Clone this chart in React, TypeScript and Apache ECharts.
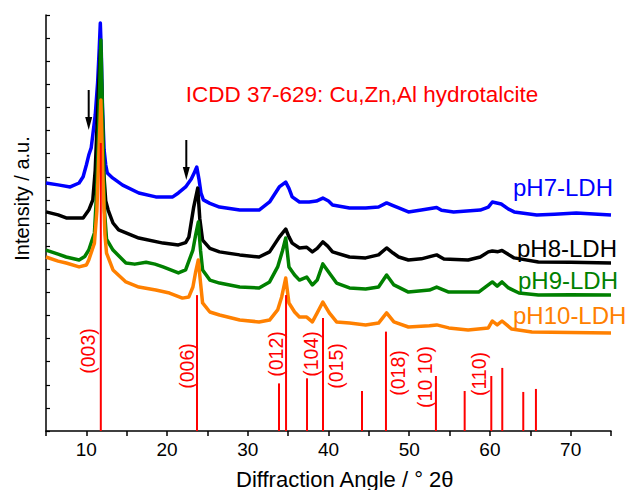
import React, { useEffect, useRef } from "react";
import * as echarts from "echarts";

// 2θ (degrees), intensity (a.u.)
const pH7: [number, number][] = [
  [5.0, 1073], [6.5, 1065], [8.0, 1056], [9.1, 1073], [9.6, 1100], [10.0, 1151], [10.3, 1194], [10.6, 1225],
  [11.1, 1367], [11.4, 1510], [11.6, 1657], [11.73, 1765], [11.85, 1640], [12.0, 1400], [12.2, 1216], [12.4, 1151],
  [12.6, 1116], [13.25, 1095], [14.5, 1064], [16.5, 1030], [18.6, 1013], [20.7, 1013], [21.4, 1030], [22.3, 1056],
  [23.0, 1090], [23.4, 1120], [23.68, 1142], [23.95, 1090], [24.2, 1030], [24.5, 1000], [25.3, 985], [26.5, 969],
  [29.0, 956], [31.4, 956], [32.7, 991], [33.9, 1056], [34.7, 1077], [35.1, 1050], [35.5, 1013], [36.4, 991],
  [37.6, 991], [38.5, 995], [39.3, 1008], [40.0, 995], [40.5, 978], [42.6, 965], [44.6, 965], [46.2, 969],
  [47.2, 987], [48.0, 975], [48.7, 965], [49.9, 948], [51.5, 956], [53.4, 967], [54.0, 955], [55.5, 948],
  [58.8, 956], [59.8, 969], [60.3, 991], [61.4, 982], [62.3, 960], [63.0, 948], [65.8, 935], [68.0, 938],
  [70.7, 943], [75.0, 935],
];
const pH8: [number, number][] = [
  [5.0, 948], [6.5, 935], [7.5, 922], [9.6, 922], [10.3, 956], [10.8, 1000], [11.1, 1129], [11.3, 1300],
  [11.5, 1480], [11.75, 1649], [11.95, 1400], [12.15, 1120], [12.4, 995], [12.7, 956], [13.3, 900], [14.0, 870],
  [16.5, 835], [19.5, 813], [21.4, 805], [22.3, 815], [22.7, 839], [23.3, 969], [23.8, 1051], [24.05, 920],
  [24.4, 826], [25.3, 790], [26.5, 775], [29.0, 762], [31.4, 753], [32.7, 775], [33.9, 839], [34.7, 874],
  [35.1, 840], [35.5, 813], [36.4, 792], [37.3, 795], [38.0, 775], [38.6, 790], [39.3, 818], [39.9, 800],
  [40.5, 775], [42.6, 753], [44.6, 749], [46.2, 762], [47.2, 792], [48.0, 770], [48.7, 753], [49.9, 740],
  [51.5, 745], [53.4, 762], [54.3, 744], [57.3, 740], [58.8, 753], [59.8, 775], [60.3, 779], [61.0, 776],
  [61.5, 781], [62.0, 770], [63.0, 749], [66.0, 731], [70.0, 730], [75.0, 727],
];
const pH9: [number, number][] = [
  [5.0, 783], [6.5, 765], [7.5, 753], [9.1, 740], [9.8, 755], [10.3, 783], [11.0, 857], [11.3, 1050],
  [11.55, 1350], [11.8, 1692], [12.05, 1300], [12.25, 950], [12.5, 830], [13.3, 783], [14.9, 727], [16.0, 722],
  [17.4, 730], [18.5, 722], [19.5, 710], [21.4, 684], [22.3, 697], [23.2, 783], [23.55, 850], [23.87, 904],
  [24.15, 780], [24.4, 697], [25.3, 653], [26.5, 640], [29.0, 623], [31.4, 619], [32.7, 645], [33.7, 710],
  [34.3, 780], [34.7, 835], [35.1, 710], [35.8, 675], [36.4, 653], [37.3, 666], [38.0, 632], [38.6, 653],
  [39.3, 723], [40.1, 684], [41.0, 640], [42.6, 619], [44.6, 614], [46.2, 623], [47.2, 675], [48.1, 632],
  [49.9, 601], [52.5, 610], [53.4, 623], [54.9, 601], [58.6, 601], [59.8, 632], [60.3, 645], [60.9, 627],
  [61.5, 645], [62.3, 619], [63.6, 597], [66.0, 588], [70.0, 590], [75.0, 588],
];
const pH10: [number, number][] = [
  [5.0, 753], [6.5, 735], [7.5, 727], [9.1, 710], [10.0, 718], [10.3, 740], [11.0, 813], [11.3, 950],
  [11.55, 1200], [11.8, 1432], [12.05, 1100], [12.3, 850], [12.5, 770], [13.3, 697], [14.9, 645], [16.5, 623],
  [18.6, 610], [20.3, 597], [21.9, 575], [22.7, 580], [23.2, 623], [23.55, 690], [23.87, 740], [24.15, 640],
  [24.4, 554], [25.3, 515], [26.5, 502], [29.0, 480], [31.4, 472], [32.7, 480], [33.7, 524], [34.2, 580],
  [34.7, 662], [35.1, 554], [35.8, 515], [36.4, 493], [37.3, 493], [38.0, 472], [38.6, 511], [39.3, 558],
  [40.1, 511], [41.0, 472], [42.6, 467], [44.6, 459], [46.2, 467], [47.2, 511], [48.1, 472], [49.9, 450],
  [52.5, 455], [53.4, 459], [54.9, 446], [57.3, 437], [59.8, 446], [60.3, 476], [60.9, 459], [61.5, 476],
  [62.7, 441], [65.2, 428], [70.0, 426], [75.0, 424],
];

// ICDD 37-629 reference reflections: 2θ, relative stick height
const refPos = [11.79, 23.71, 33.87, 34.74, 37.34, 39.32, 44.15, 47.12, 53.31, 56.87, 60.17, 61.53, 64.13, 65.7];
const refHeight = [1246, 588, 206, 588, 228, 489, 173, 430, 238, 173, 238, 273, 169, 182];

const hklLabels = ["(003)", "(006)", "(012)", "(104)", "(015)", "(018)", "(10 10)", "(110)"];
const hklPx: [number, number][] = [
  [88, 351], [186.5, 366], [276, 354], [311, 354], [336, 366], [397.5, 373], [425, 377], [478.5, 374],
];

const seriesNames = ["pH7-LDH", "pH8-LDH", "pH9-LDH", "pH10-LDH"];
const seriesColors = ["#0000ff", "#000000", "#008000", "#ff8000"];
const seriesLabelPx: [number, number][] = [[513, 187.5], [517, 248], [518, 280.5], [513, 315.5]];

const xTicks = { min: 5, max: 75, interval: 5 };
const yTicks = { min: 0, max: 1800, interval: 100 };

const FONT = "Liberation Sans, Arial, Helvetica, sans-serif";

export default function App() {
  const ref = useRef<HTMLDivElement>(null);
  useEffect(() => {
    const chart = echarts.init(ref.current!, null, { renderer: "svg" });
    const curves = [pH7, pH8, pH9, pH10];
    const graphic: any[] = [];
    graphic.push({
      type: "text", x: 362, y: 94,
      style: { text: "ICDD 37-629: Cu,Zn,Al hydrotalcite", fill: "#ff0000", font: `22.5px ${FONT}`, align: "center", verticalAlign: "middle" },
    });
    seriesNames.forEach((n, i) => {
      graphic.push({
        type: "text", x: seriesLabelPx[i][0], y: seriesLabelPx[i][1],
        style: { text: n, fill: seriesColors[i], font: `24px ${FONT}`, align: "left", verticalAlign: "middle" },
      });
    });
    hklLabels.forEach((t, i) => {
      graphic.push({
        type: "text", x: hklPx[i][0], y: hklPx[i][1], rotation: Math.PI / 2,
        style: { text: t, fill: "#ff0000", font: `19.5px ${FONT}`, align: "center", verticalAlign: "middle" },
      });
    });
    graphic.push({
      type: "text", x: 236, y: 479,
      style: { text: "Diffraction Angle / \u00b0 2\u03b8", fill: "#000", font: `22px ${FONT}`, align: "left", verticalAlign: "middle" },
    });
    graphic.push({
      type: "text", x: 22, y: 198.5, rotation: Math.PI / 2,
      style: { text: "Intensity / a.u.", fill: "#000", font: `20px ${FONT}`, align: "center", verticalAlign: "middle" },
    });
    const arrows: [number, number, number][] = [[88.7, 90, 130], [186.3, 140, 180]];
    arrows.forEach(([x, y0, y1]) => {
      graphic.push({ type: "line", shape: { x1: x, y1: y0, x2: x, y2: y1 - 10 }, style: { stroke: "#000", lineWidth: 2 } });
      graphic.push({ type: "polygon", shape: { points: [[x - 3.5, y1 - 13], [x + 3.5, y1 - 13], [x, y1]] }, style: { fill: "#000" } });
    });

    const option: any = {
      animation: false,
      grid: { left: 46, right: 16, top: 15, bottom: 59 },
      xAxis: {
        type: "value", min: xTicks.min, max: xTicks.max, interval: xTicks.interval,
        axisLine: { show: true, lineStyle: { color: "#000", width: 1.5 } },
        axisTick: { show: true, length: 5, inside: false, lineStyle: { color: "#000", width: 1.5 } },
        axisLabel: {
          color: "#000", fontSize: 19, fontFamily: FONT, margin: 9,
          formatter: (v: number) => (v % 10 === 0 ? String(v) : ""),
        },
        splitLine: { show: false },
      },
      yAxis: {
        type: "value", min: yTicks.min, max: yTicks.max, interval: yTicks.interval,
        axisLine: { show: true, lineStyle: { color: "#000", width: 1.5 } },
        axisTick: { show: true, length: 4, inside: true, lineStyle: { color: "#000", width: 1.2 } },
        axisLabel: { show: false },
        splitLine: { show: false },
      },
      series: [
        ...curves.map((d, i) => ({
          type: "line", name: seriesNames[i], data: d, showSymbol: false, smooth: false,
          lineStyle: { color: seriesColors[i], width: 3.5, join: "round" }, z: 2 + i,
        })),
        {
          type: "custom", name: "ICDD 37-629", z: 10,
          data: refPos.map((p, i) => [p, refHeight[i]]),
          renderItem: (params: any, api: any) => {
            const x = api.value(0);
            const h = api.value(1);
            const p0 = api.coord([x, 0]);
            const p1 = api.coord([x, h]);
            return { type: "line", shape: { x1: p0[0], y1: p0[1], x2: p1[0], y2: p1[1] }, style: { stroke: "#ff0000", lineWidth: 2 } };
          },
        },
      ],
      graphic,
    };
    chart.setOption(option);
    return () => chart.dispose();
  }, []);
  return <div ref={ref} style={{ position: "fixed", left: 0, top: 0, width: 627, height: 490, background: "#fff" }} />;
}
